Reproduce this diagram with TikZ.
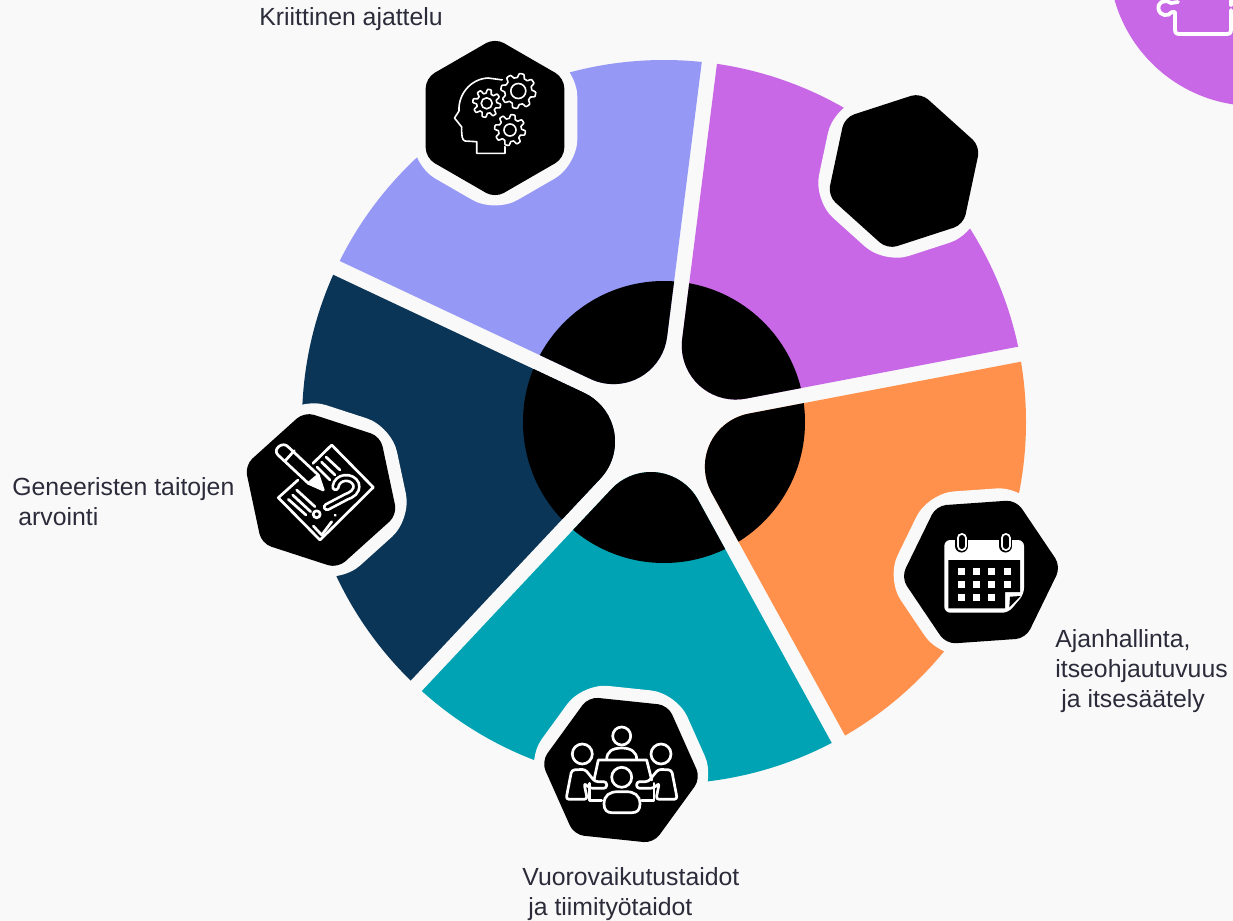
\documentclass[tikz,border=0pt]{standalone}
\usepackage{fontspec}
\setmainfont{Liberation Sans}
\usetikzlibrary{shapes.geometric, calc}
\definecolor{pagebg}{HTML}{F9F9F9}
\definecolor{wheellavender}{HTML}{9698F6}
\definecolor{wheelpurple}{HTML}{C968E6}
\definecolor{wheelorange}{HTML}{FF914D}
\definecolor{wheelteal}{HTML}{00A3B4}
\definecolor{wheelnavy}{HTML}{0A3556}
\definecolor{labelink}{HTML}{2B2B3A}
\tikzset{
  hexhalo/.style={regular polygon, regular polygon sides=6, minimum size=95pt, inner sep=0pt, outer sep=0pt, fill=pagebg, rounded corners=13pt},
  hexcell/.style={regular polygon, regular polygon sides=6, minimum size=80pt, inner sep=0pt, outer sep=0pt, fill=black, rounded corners=5pt},
  wheellabel/.style={text=labelink, font=\fontsize{12.4pt}{15.1pt}\selectfont, align=left, anchor=north west, inner sep=0pt},
  thinicon/.style={white, line width=0.8pt, line join=round},
  iconline/.style={white, line width=1.35pt, line join=round, line cap=round}
}
\newcommand{\gearicon}[4]{%
  \draw[thinicon] plot[samples=145, domain=0:360] ({#1+(#3+2*max(-1,min(1,2*sin(8*\x))))*cos(\x)}, {#2+(#3+2*max(-1,min(1,2*sin(8*\x))))*sin(\x)}) -- cycle;
  \draw[thinicon] (#1,#2) circle (#4);
}
\begin{document}
\begin{tikzpicture}[x=0.5pt, y=-0.5pt]
    \useasboundingbox (0,0) rectangle (1233,921);
    \fill[pagebg] (0,0) rectangle (1233,921);

    % Corner badge
    \fill[wheelpurple] (1255,-40) circle (146);
    \draw[iconline, line width=1.9pt] (1178,2) -- (1171,3) .. controls (1163,-2) and (1157,4) .. (1158.5,9) .. controls (1160,16) and (1168,17) .. (1172,12) -- (1175,12) -- (1175,29) .. controls (1175,33) and (1176,34) .. (1180,34) -- (1226,34) .. controls (1230,34) and (1231,33) .. (1231,29) -- (1231,10);
    \draw[iconline, line width=1.9pt] (1231,-2) -- (1231,5);

    % Wheel sectors, each with its black lobe
    \foreach \a/\col in {-82.8/wheelpurple, -10.8/wheelorange, 61.2/wheelteal, 133.2/wheelnavy, 205.2/wheellavender} {
      \begin{scope}[shift={(664,422)}]
        \clip ($({\a+36}:13)+(\a:900)$) -- ($({\a+36}:13)+(\a:74.3)$) arc[start angle={\a-90}, end angle={\a-198}, radius=54] -- ($({\a+36}:13)+({\a+72}:900)$) -- ({\a+36}:1800) -- cycle;
        \fill[\col] (0,0) circle (362);
        \fill[black] (0,0) circle (141);
      \end{scope}
    }

    % Hexagons
    \node[hexhalo, rotate=30] (halothink) at (495,118) {};
    \node[hexhalo, rotate=18] (halopuzzle) at (904,171) {};
    \node[hexhalo, rotate=4] (halotime) at (981,572) {};
    \node[hexhalo, rotate=-6] (haloteam) at (621,770) {};
    \node[hexhalo, rotate=-18] (haloassess) at (321,490) {};
    \node[hexcell, rotate=30] (hexthink) at (495,118) {};
    \node[hexcell, rotate=18] (hexpuzzle) at (904,171) {};
    \node[hexcell, rotate=4] (hextime) at (981,572) {};
    \node[hexcell, rotate=-6] (hexteam) at (621,770) {};
    \node[hexcell, rotate=-18] (hexassess) at (321,490) {};

    % Head with gears
    \draw[thinicon] (505,145) -- (505,153.3) -- (476.7,153.3) -- (476.7,141.7) -- (465,141) .. controls (462,140) and (461.5,136) .. (461.7,127) -- (454.5,118) -- (459,111) .. controls (458,95) and (470,79) .. (488,78) -- (503,80);
    \fill[black] (518.3,91) circle (19);
    \fill[black] (510,130) circle (17);
    \gearicon{518.3}{91}{15.5}{7.5}
    \gearicon{486.7}{103.3}{12}{5.5}
    \gearicon{510}{130}{13.5}{6}

    % Paper, pencil and question mark
    \draw[iconline] (313,463.3) -- (331.7,445) -- (373.3,487.3) -- (320,540) -- (278.3,497.7) -- (298,480);
    \draw[iconline] (318.3,475) -- (288,446.7) .. controls (283,441) and (272,449) .. (278,455) -- (308.3,483.3);
    \draw[iconline] (294.3,450.7) -- (285,461);
    \draw[iconline, fill=white] (318.3,475) -- (323.3,490) -- (308.3,483.3) -- cycle;
    \draw[iconline] (326,457) -- (340,470);
    \draw[iconline] (321.5,462) -- (335,475);
    \draw[iconline] (317,467) -- (330,480);
    \draw[iconline] (296.7,490) -- (315,506.7);
    \draw[iconline] (292.7,495) -- (310.7,511.7);
    \draw[iconline] (288.3,499.3) -- (306,515);
    \draw[white, line width=4.2pt, line cap=round] (335.5,487) .. controls (337,476) and (352,475) .. (356,484) .. controls (358,492) and (351,495) .. (346,497) -- (327,507);
    \draw[black, line width=1.5pt, line cap=round] (335.5,487) .. controls (337,476) and (352,475) .. (356,484) .. controls (358,492) and (351,495) .. (346,497) -- (327,507);
    \draw[iconline] (316.7,514.3) circle (3.5);
    \draw[iconline] (313.3,526) -- (321.7,535) -- (331.7,521.7);
    \draw[iconline] (335,515) -- (335.5,515.5);

    % Team round a table
    \draw[iconline] (621.7,736) circle (9);
    \draw[iconline] (582.3,754) circle (10);
    \draw[iconline] (661,754) circle (10);
    \draw[iconline] (606.7,759.3) .. controls (606.7,752) and (612,748) .. (621.7,748) .. controls (631,748) and (636.7,752) .. (636.7,759.3);
    \draw[iconline] (594,780) -- (598.3,760) -- (646.7,760) -- (651.7,780);
    \draw[iconline] (589.3,783.3) -- (589.3,800.7) -- (601.7,800.7);
    \draw[iconline] (654,783.3) -- (654,800.7) -- (641.7,800.7);
    \draw[iconline, rounded corners=1.5pt] (566,799.3) -- (571.7,770) -- (585,769.3) -- (595,781.7) -- (606.7,781.7) -- (606.7,788.3) -- (590,788.3) -- (584,783) -- (587.3,799.3) -- cycle;
    \draw[iconline, rounded corners=1.5pt] (677.3,799.3) -- (671.6,770) -- (658.3,769.3) -- (648.3,781.7) -- (636.6,781.7) -- (636.6,788.3) -- (653.3,788.3) -- (659.3,783) -- (656,799.3) -- cycle;
    \draw[iconline] (621.7,777.3) circle (10);
    \draw[iconline] (604,804) .. controls (604,795) and (610,791.7) .. (618,791.7) -- (626,791.7) .. controls (634,791.7) and (640,795) .. (640,804) .. controls (640,810) and (637,812.7) .. (632,812.7) -- (612,812.7) .. controls (607,812.7) and (604,810) .. (604,804) -- cycle;

    % Calendar
    \fill[white, rounded corners=3pt] (944.3,540) -- (1024,540) -- (1024,594) -- (1008.3,612.7) -- (944.3,612.7) -- cycle;
    \fill[black] (948.3,560) -- (1020,560) -- (1020,592) -- (1005,592) -- (1005,608.3) -- (948.3,608.3) -- cycle;
    \fill[black] (1010,596.7) -- (1020.7,596) -- (1009.3,607.3) -- cycle;
    \foreach \rx in {961.7, 1005.7} {
      \draw[black, line width=6.5pt, line cap=round] (\rx,538) -- (\rx,546);
      \draw[white, line width=5pt, line cap=round] (\rx,538) -- (\rx,546);
      \draw[black, line width=3pt, line cap=round] (\rx,538) -- (\rx,546);
    }
    \foreach \cy/\cols in {571.7/{961.7,976.7,991.7,1007.3}, 584.3/{961.7,976.7,991.7,1007.3}, 597.3/{961.7,976.7,991.7}} {
      \foreach \cx in \cols {
        \fill[white] (\cx-3.5,\cy-3.5) rectangle (\cx+3.5,\cy+3.5);
      }
    }

    % Labels
    \node[wheellabel] (labelthink) at (259,7.5) {Kriittinen ajattelu};
    \node[wheellabel] (labelassess) at (12,477) {Geneeristen taitojen\\\hspace*{3pt}arvointi};
    \node[wheellabel] (labeltime) at (1055,629) {Ajanhallinta,\\itseohjautuvuus\\\hspace*{3pt}ja itsesäätely};
    \node[wheellabel] (labelteam) at (522,867) {Vuorovaikutustaidot\\\hspace*{3pt}ja tiimityötaidot};
\end{tikzpicture}
\end{document}
